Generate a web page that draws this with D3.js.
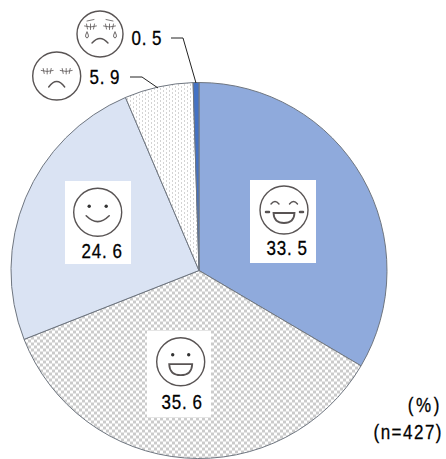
<!DOCTYPE html>
<html><head><meta charset="utf-8">
<script src="https://cdn.jsdelivr.net/npm/d3@7"></script>
<style>html,body{margin:0;background:#fff}svg{display:block}text{font-family:"Liberation Sans",Arial,sans-serif;fill:#000;stroke:#000;stroke-width:.25px}</style>
</head><body><div id="c"></div>
<script>
const categories = ["very-happy","happy","smile","sad","crying"];
const values = [33.5,35.6,24.6,5.9,0.5];
const labels = ["33.5","35.6","24.6","5.9","0.5"];
const fills = ["#8faadc","url(#check)","#dae3f3","url(#dots)","#4472c4"];
const W=446,H=459,cx=199,cy=270.5,R=188;
const svg=d3.select("#c").append("svg").attr("width",W).attr("height",H);
const defs=svg.append("defs");
const ck=defs.append("pattern").attr("id","check").attr("patternUnits","userSpaceOnUse").attr("width",6).attr("height",6);
ck.append("rect").attr("width",6).attr("height",6).attr("fill","#fff");
[[0,0,3,3],[3,3,3,3]].forEach(r=>ck.append("rect").attr("x",r[0]).attr("y",r[1]).attr("width",r[2]).attr("height",r[3]).attr("fill","#cbcbcb"));
const dt=defs.append("pattern").attr("id","dots").attr("patternUnits","userSpaceOnUse").attr("width",6).attr("height",4);
dt.append("rect").attr("width",6).attr("height",4).attr("fill","#fff");
dt.append("rect").attr("width",1).attr("height",1).attr("fill","#a8a8a8");
dt.append("rect").attr("x",3).attr("y",2).attr("width",1).attr("height",1).attr("fill","#a8a8a8");

const pie=d3.pie().sort(null)(values);
const arc=d3.arc().innerRadius(0).outerRadius(R);
const g=svg.append("g").attr("transform",`translate(${cx},${cy})`);
g.selectAll("path").data(pie).join("path").attr("d",arc)
 .attr("fill",(d,i)=>fills[i]).attr("stroke","#6f7680").attr("stroke-width",1);

const boxes=[{i:0,x:250,y:180,w:66,h:83,tx:266.5,ty:255,fx:284,fy:210,r:24},
 {i:1,x:147,y:331,w:64,h:86,tx:161.5,ty:409,fx:180.7,fy:361.7,r:24},
 {i:2,x:65,y:181,w:66,h:83,tx:81.5,ty:258,fx:97.7,fy:212.3,r:24}];
svg.selectAll("rect.box").data(boxes).join("rect").attr("class","box")
 .attr("x",d=>d.x).attr("y",d=>d.y).attr("width",d=>d.w).attr("height",d=>d.h).attr("fill","#fff");

function num(x,y,s){
  const adv=10.3; let pos=[],p=0;
  for(const c of s){pos.push(p); p+=adv;}
  svg.append("text").attr("transform",`translate(${x},${y}) scale(1,1.2)`).attr("x",pos.join(" ")).attr("y",0).attr("font-size",17).text(s);
}
function face(fx,fy,r,type){
  const f=svg.append("g").attr("transform",`translate(${fx},${fy})`).attr("fill","none").attr("stroke","#595454").attr("stroke-width",1.4).attr("stroke-linecap","round");
  f.append("circle").attr("r",r);
  const dot=(x,y)=>f.append("circle").attr("cx",x).attr("cy",y).attr("r",1.7).attr("fill","#333").attr("stroke","none");
  const lash=(x,y)=>{
    f.append("path").attr("d",`M${x-6},${y-.5}Q${x},${y+1.5} ${x+6},${y-.5}M${x-4},${y-2.5}L${x-3},${y+2.5}M${x},${y-2.5}V${y+3}M${x+4},${y-2.5}L${x+3},${y+2.5}`).attr("stroke-width",.8);
  };
  if(type==="very-happy"){
    f.append("path").attr("d","M-13,-6Q-9,-11 -5,-6M5.5,-6Q9.5,-11 13.5,-6");
    f.append("path").attr("d","M-10.5,3H10.5Q10,13 0,13Q-10,13 -10.5,3Z").attr("fill","#fff").attr("stroke-width",1.8);
    f.append("path").attr("d","M-18,2H-15M16,2H19").attr("stroke-width",2.5);
  } else if(type==="happy"){
    dot(-8,-7);dot(8,-7);
    f.append("path").attr("d","M-11.5,2.5H11.5Q11,13.5 0,13.5Q-11,13.5 -11.5,2.5Z").attr("fill","#fff").attr("stroke-width",1.8);
  } else if(type==="smile"){
    dot(-8.5,-6);dot(8.5,-6);
    f.append("path").attr("d","M-11.5,3.5Q0,15 11.5,3.5").attr("stroke-width",1.6);
  } else if(type==="sad"){
    lash(-9.5,-5);lash(9.5,-5);
    f.append("path").attr("d","M-8,11Q0,0 8,11").attr("stroke-width",1.4);
  } else {
    f.append("path").attr("d","M-13,-13L-6,-14.5M6,-14.5L13,-13").attr("stroke-width",.8);
    lash(-9.5,-7.5);lash(9.5,-7.5);
    f.append("path").attr("d","M-8,9Q0,0 8,9").attr("stroke-width",1.4);
    f.append("path").attr("d","M-13,-2q-3,5 0,6q3,-1 0,-6M15,-2q-3,5 0,6q3,-1 0,-6").attr("fill","#fff").attr("stroke-width",.9);
  }
}
boxes.forEach(b=>{face(b.fx,b.fy,b.r,categories[b.i]);num(b.tx,b.ty,labels[b.i]);});
face(56.7,76,24,categories[3]);
face(100,34,23,categories[4]);
num(89.5,83.5,labels[3]);
num(131.5,45,labels[4]);
const leader=d3.line().x(d=>d[0]).y(d=>d[1]);
const leaders=[[[130,77],[142,77],[158,88]],[[171,38],[183,38],[196,83]]];
svg.selectAll("path.lead").data(leaders).join("path").attr("class","lead").attr("d",leader).attr("fill","none").attr("stroke","#222").attr("stroke-width",1);
const notes=[["(%)",442,412,2.6],["(n=427)",443,439,1.5]];
svg.selectAll("text.note").data(notes).join("text").attr("class","note").attr("text-anchor","end")
 .attr("transform",d=>`translate(${d[1]},${d[2]}) scale(1,1.15)`).attr("letter-spacing",d=>d[3]).attr("font-size",17).text(d=>d[0]);
</script></body></html>
